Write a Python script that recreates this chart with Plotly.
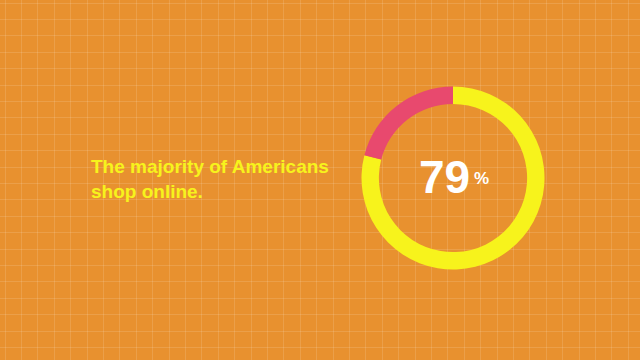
import plotly.graph_objects as go

labels = ["Shop online", "Do not shop online"]
values = [79, 21]
slice_colors = ["#F7F31C", "#E8496E"]
headline = ["The majority of Americans", "shop online."]
big_number = "79"
unit = "%"

BG = "#E8912F"
W, H = 640, 360

fig = go.Figure()

fig.add_trace(go.Pie(
    labels=labels, values=values, sort=False, direction="clockwise", rotation=0,
    hole=0.81, marker=dict(colors=slice_colors, line=dict(width=0)),
    textinfo="none", hoverinfo="skip", showlegend=False,
    domain=dict(x=[(453 - 91.5) / W, (453 + 91.5) / W],
                y=[(H - 178 - 91.5) / H, (H - 178 + 91.5) / H]),
))

fig.add_annotation(x=89, y=179, xref="x", yref="y", xanchor="left", yanchor="middle",
                   text="<br>".join(headline), showarrow=False, align="left",
                   font=dict(family="Liberation Sans, Arial", size=19,
                             color="#F7F31C", weight="bold"))
fig.add_annotation(x=472, y=177, xref="x", yref="y", xanchor="right", yanchor="middle",
                   text=big_number, showarrow=False,
                   font=dict(family="Liberation Sans, Arial", size=46, color="white", weight="bold"))
fig.add_annotation(x=472, y=178, xref="x", yref="y", xanchor="left", yanchor="middle",
                   text=unit, showarrow=False,
                   font=dict(family="Liberation Sans, Arial", size=17, color="white", weight="bold"))

grid = dict(showgrid=True, gridcolor="rgba(255,255,255,0.13)", gridwidth=1,
            zeroline=False, showticklabels=False, ticks="", showline=False, fixedrange=True)
fig.update_xaxes(range=[0, W], dtick=16.4, tick0=5, **grid)
fig.update_yaxes(range=[H, 0], dtick=16.4, tick0=3, **grid)

fig.update_layout(width=W, height=H, margin=dict(l=0, r=0, t=0, b=0),
                  paper_bgcolor=BG, plot_bgcolor=BG)

fig.write_html("out.html", config={"displayModeBar": False, "staticPlot": True},
               post_script="document.body.style.margin='0';document.body.style.overflow='hidden';")
